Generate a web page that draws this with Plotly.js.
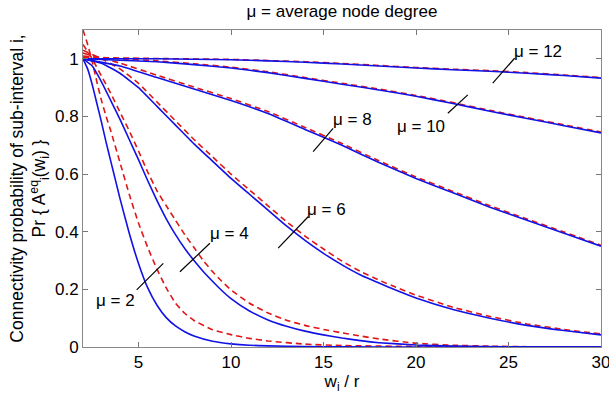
<!DOCTYPE html>
<html>
<head>
<meta charset="utf-8">
<script src="https://cdn.plot.ly/plotly-3.0.1.min.js"></script>
<style>html,body{margin:0;padding:0;background:#fff;}#chart{width:609px;height:398px;}</style>
</head>
<body>
<div id="chart"></div>
<script>
// Degrees (mu) shown
const muValues = [2, 4, 6, 8, 10, 12];

// Exact connectivity probability (blue solid), x = w_i / r
const exX2 = [2, 2.25, 2.5, 2.75, 3, 3.25, 3.5, 3.75, 4, 4.5, 5, 5.5, 6, 6.5, 7, 7.5, 8, 9, 10, 11, 12, 14, 16, 20, 30];
const exY2 = [1, 0.965, 0.91, 0.845, 0.78, 0.71, 0.645, 0.58, 0.515, 0.395, 0.29, 0.205, 0.145, 0.102, 0.073, 0.053, 0.038, 0.02, 0.011, 0.006, 0.004, 0.0015, 0.0005, 0, 0];

const exX4 = [2, 2.5, 3, 3.5, 4, 4.5, 5, 5.5, 6, 6.5, 7, 7.5, 8, 8.5, 9, 9.5, 10, 11, 12, 13, 14, 15, 16, 17, 18, 20, 22, 25, 30];
const exY4 = [1, 0.975, 0.92, 0.855, 0.79, 0.72, 0.65, 0.577, 0.508, 0.445, 0.39, 0.342, 0.3, 0.262, 0.228, 0.196, 0.168, 0.125, 0.094, 0.072, 0.055, 0.042, 0.031, 0.022, 0.015, 0.007, 0.003, 0.001, 0];

const exX6 = [2, 3, 4, 5, 6, 7, 8, 9, 10, 11, 12, 13, 14, 15, 16, 17, 18, 19, 20, 22, 24, 26, 28, 30];
const exY6 = [1, 0.985, 0.95, 0.9, 0.835, 0.77, 0.705, 0.645, 0.585, 0.53, 0.475, 0.42, 0.37, 0.325, 0.285, 0.25, 0.222, 0.195, 0.17, 0.13, 0.1, 0.075, 0.057, 0.042];

const exX8 = [2, 4, 6, 8, 10, 12, 14, 16, 18, 20, 22, 24, 26, 28, 30];
const exY8 = [1, 0.975, 0.935, 0.895, 0.855, 0.81, 0.755, 0.7, 0.64, 0.585, 0.535, 0.485, 0.44, 0.395, 0.35];

const exX10 = [2, 4, 6, 8, 10, 12, 14, 16, 18, 20, 22, 24, 26, 28, 30];
const exY10 = [1, 0.995, 0.99, 0.98, 0.968, 0.952, 0.932, 0.912, 0.892, 0.87, 0.845, 0.818, 0.793, 0.768, 0.743];

const exX12 = [2, 6, 10, 12, 14, 16, 18, 20, 22, 24, 26, 28, 30];
const exY12 = [1, 1, 0.997, 0.993, 0.988, 0.982, 0.975, 0.968, 0.962, 0.957, 0.95, 0.942, 0.933];

// Approximation (red dashed)
const apX2 = [2, 2.25, 2.5, 2.75, 3, 3.25, 3.5, 4, 4.5, 5, 5.5, 6, 6.5, 7, 7.5, 8, 9, 10, 11, 12, 14, 16, 20, 24, 30];
const apY2 = [1.1, 1.05, 0.99, 0.92, 0.855, 0.8, 0.75, 0.64, 0.53, 0.43, 0.345, 0.27, 0.205, 0.152, 0.117, 0.092, 0.06, 0.043, 0.03, 0.021, 0.01, 0.005, 0.002, 0.001, 0];

const apX4 = [2, 2.5, 3, 3.5, 4, 4.5, 5, 5.5, 6, 6.5, 7, 7.5, 8, 8.5, 9, 9.5, 10, 11, 12, 13, 14, 15, 16, 17, 18, 20, 22, 24, 26, 30];
const apY4 = [1.05, 1.0, 0.94, 0.88, 0.815, 0.75, 0.68, 0.607, 0.542, 0.49, 0.44, 0.39, 0.345, 0.3, 0.262, 0.228, 0.198, 0.152, 0.118, 0.093, 0.075, 0.061, 0.049, 0.038, 0.028, 0.013, 0.006, 0.003, 0.001, 0];

const apX6 = [2, 3, 4, 5, 6, 7, 8, 9, 10, 11, 12, 13, 14, 15, 16, 17, 18, 19, 20, 22, 24, 26, 28, 30];
const apY6 = [1.03, 1.0, 0.965, 0.915, 0.85, 0.785, 0.72, 0.66, 0.6, 0.545, 0.49, 0.435, 0.385, 0.34, 0.298, 0.262, 0.232, 0.205, 0.18, 0.138, 0.106, 0.08, 0.061, 0.045];

const apX8 = [2, 4, 6, 8, 10, 12, 14, 16, 18, 20, 22, 24, 26, 28, 30];
const apY8 = [1.02, 0.985, 0.943, 0.902, 0.862, 0.817, 0.762, 0.706, 0.646, 0.59, 0.54, 0.49, 0.444, 0.399, 0.353];

const apX10 = [2, 4, 6, 8, 10, 12, 14, 16, 18, 20, 22, 24, 26, 28, 30];
const apY10 = [1.01, 1.0, 0.993, 0.983, 0.971, 0.955, 0.935, 0.915, 0.895, 0.873, 0.848, 0.821, 0.796, 0.771, 0.746];

const apX12 = [2, 6, 10, 12, 14, 16, 18, 20, 22, 24, 26, 28, 30];
const apY12 = [1.005, 1.001, 0.998, 0.994, 0.99, 0.984, 0.977, 0.97, 0.964, 0.959, 0.952, 0.944, 0.935];

// Label text positions and pointer segments (data coords)
const labelX = [3.78, 9.94, 15.16, 16.58, 20.29, 26.62];
const labelY = [0.163, 0.395, 0.476, 0.788, 0.765, 1.025];
const ptrX0 = [4.9, 7.24, 12.55, 14.44, 21.72, 24.15];
const ptrY0 = [0.198, 0.261, 0.343, 0.678, 0.811, 0.916];
const ptrX1 = [6.34, 8.86, 14.17, 15.52, 22.8, 25.33];
const ptrY1 = [0.29, 0.36, 0.452, 0.759, 0.875, 1.002];

const xTicks = [5, 10, 15, 20, 25, 30];
const yTicks = [0, 0.2, 0.4, 0.6, 0.8, 1];
const yTickText = ['0', '0.2', '0.4', '0.6', '0.8', '1'];

const exact = [[exX2, exY2], [exX4, exY4], [exX6, exY6], [exX8, exY8], [exX10, exY10], [exX12, exY12]];
const approx = [[apX2, apY2], [apX4, apY4], [apX6, apY6], [apX8, apY8], [apX10, apY10], [apX12, apY12]];

const BLUE = '#1212e6';
const RED = '#e01616';
const FONT = 'Liberation Sans, Arial, sans-serif';

const traces = [];
approx.forEach((s, i) => {
  traces.push({x: s[0], y: s[1], mode: 'lines', type: 'scatter', name: 'approx μ=' + muValues[i],
    line: {color: RED, width: 1.6, dash: '6px,4px', shape: 'spline', smoothing: 0.4}, hoverinfo: 'skip'});
});
exact.forEach((s, i) => {
  traces.push({x: s[0], y: s[1], mode: 'lines', type: 'scatter', name: 'exact μ=' + muValues[i],
    line: {color: BLUE, width: 1.6, shape: 'spline', smoothing: 0.4}, hoverinfo: 'skip'});
});

const shapes = ptrX0.map((x0, i) => ({type: 'line', xref: 'x', yref: 'y', x0: x0, y0: ptrY0[i], x1: ptrX1[i], y1: ptrY1[i],
  line: {color: '#000', width: 1.2}}));

const annotations = labelX.map((x, i) => ({x: x, y: labelY[i], xref: 'x', yref: 'y', text: 'μ = ' + muValues[i],
  showarrow: false, font: {family: FONT, size: 17, color: '#000'}, xanchor: 'center', yanchor: 'middle'}));

const layout = {
  width: 609, height: 398,
  margin: {l: 83, r: 8, t: 30, b: 51},
  paper_bgcolor: '#fff', plot_bgcolor: '#fff',
  showlegend: false,
  font: {family: FONT, size: 17, color: '#000'},
  title: {text: 'μ = average node degree', font: {family: FONT, size: 17, color: '#000'}, x: 0.5, xref: 'paper', xanchor: 'center', y: 0.972, yanchor: 'middle'},
  xaxis: {range: [2, 30], tickvals: xTicks, ticktext: xTicks.map(String), ticks: 'inside', ticklen: 5, tickcolor: '#777',
    ticklabeloverflow: 'allow',
    showline: true, linecolor: '#888', linewidth: 1, mirror: 'ticks', showgrid: false, zeroline: false,
    tickfont: {family: FONT, size: 17, color: '#000'},
    title: {text: 'w<sub>i</sub> / r', font: {family: FONT, size: 17, color: '#000'}, standoff: 2}},
  yaxis: {range: [0, 1.1], tickvals: yTicks, ticktext: yTickText, ticks: 'inside', ticklen: 5, tickcolor: '#777',
    showline: true, linecolor: '#888', linewidth: 1, mirror: 'ticks', showgrid: false, zeroline: false,
    tickfont: {family: FONT, size: 17, color: '#000'},
    title: {text: 'Connectivity probability of sub-interval i,<br>Pr { A<sup>eq</sup><sub>i</sub>(w<sub>i</sub>) }', font: {family: FONT, size: 17.5, color: '#000'}, standoff: 4}},
  shapes: shapes,
  annotations: annotations
};

Plotly.newPlot('chart', traces, layout, {staticPlot: true, displayModeBar: false});
</script>
</body>
</html>
